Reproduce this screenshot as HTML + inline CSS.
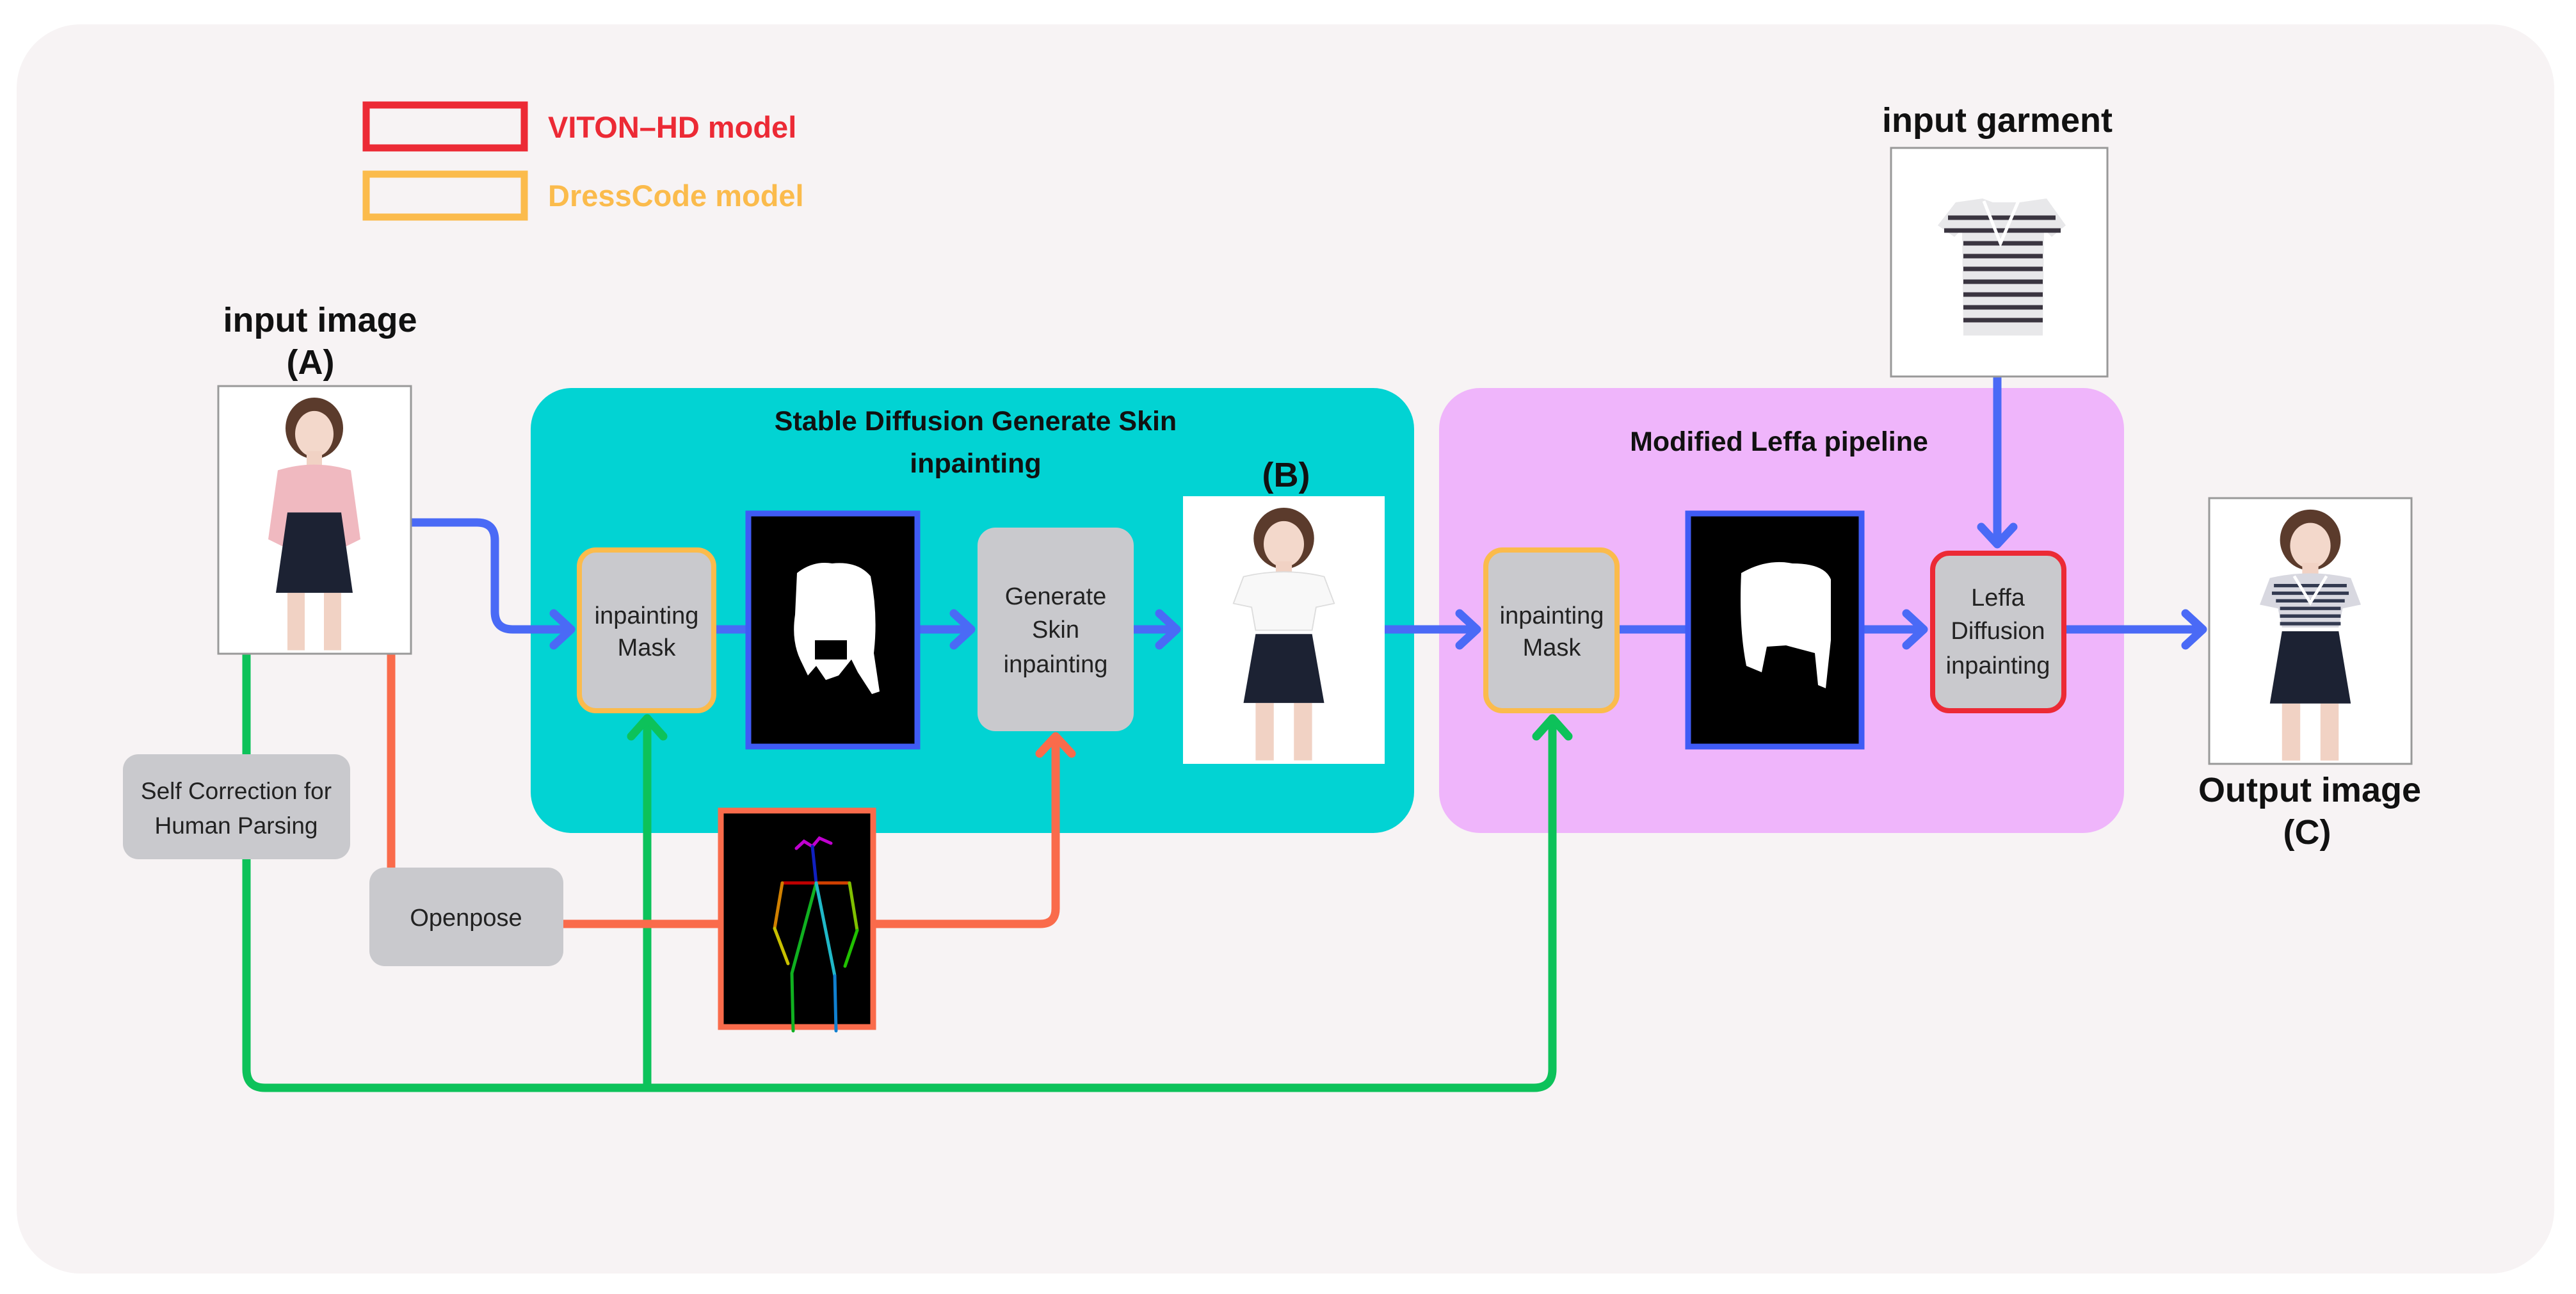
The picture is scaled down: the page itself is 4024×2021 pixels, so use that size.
<!DOCTYPE html>
<html><head><meta charset="utf-8"><style>
html,body{margin:0;padding:0;background:#fff}
svg{display:block}
text{font-family:"Liberation Sans","DejaVu Sans",sans-serif}
</style></head><body>
<svg width="4024" height="2021" viewBox="0 0 4024 2021" xmlns="http://www.w3.org/2000/svg">
<defs>
<g id="person">
  <rect x="36" y="108" width="9" height="30" fill="#f1d2c4"/>
  <rect x="55" y="108" width="9" height="30" fill="#f1d2c4"/>
  <ellipse cx="50" cy="22" rx="15" ry="16" fill="#5b3b2c"/>
  <ellipse cx="50" cy="25" rx="10" ry="12" fill="#f3d8cb"/>
  <rect x="46" y="34" width="8" height="8" fill="#f1d2c4"/>
</g>
</defs>
<rect width="4024" height="2021" fill="#fff"/>
<rect x="26" y="38" width="3964" height="1951" rx="100" fill="#f7f3f4"/>

<!-- legend -->
<rect x="572" y="164" width="247" height="67" fill="none" stroke="#ec2a35" stroke-width="11"/>
<text x="856" y="215" font-size="47" font-weight="bold" fill="#ec2a35">VITON–HD model</text>
<rect x="572" y="272" width="247" height="67" fill="none" stroke="#fbbb4c" stroke-width="11"/>
<text x="856" y="322" font-size="47" font-weight="bold" fill="#fbbb4c">DressCode model</text>

<!-- panels -->
<rect x="829" y="606" width="1380" height="695" rx="64" fill="#02d3d3"/>
<rect x="2248" y="606" width="1070" height="695" rx="64" fill="#efb5fb"/>
<text x="1524" y="672" font-size="43" font-weight="bold" text-anchor="middle" fill="#111">Stable Diffusion Generate Skin</text>
<text x="1524" y="738" font-size="43" font-weight="bold" text-anchor="middle" fill="#111">inpainting</text>
<text x="2779" y="704" font-size="43" font-weight="bold" text-anchor="middle" fill="#111">Modified Leffa pipeline</text>

<!-- labels -->
<text x="500" y="518" font-size="54" font-weight="bold" text-anchor="middle" fill="#111">input image</text>
<text x="485" y="584" font-size="54" font-weight="bold" text-anchor="middle" fill="#111">(A)</text>
<text x="2009" y="760" font-size="54" font-weight="bold" text-anchor="middle" fill="#111">(B)</text>
<text x="3120" y="206" font-size="54" font-weight="bold" text-anchor="middle" fill="#111">input garment</text>
<text x="3608" y="1252" font-size="54" font-weight="bold" text-anchor="middle" fill="#111">Output image</text>
<text x="3604" y="1318" font-size="54" font-weight="bold" text-anchor="middle" fill="#111">(C)</text>

<!-- connectors -->
<g fill="none" stroke-linecap="round" stroke-linejoin="round" stroke-width="13">
 <!-- green -->
 <path d="M385 1021 V1670 Q385 1699 414 1699 H2396 Q2425 1699 2425 1670 V1125" stroke="#0dc25a"/>
 <path d="M1011 1699 V1125" stroke="#0dc25a"/>
 <path d="M986 1150 L1011 1122 L1036 1150" stroke="#0dc25a"/>
 <path d="M2400 1150 L2425 1122 L2450 1150" stroke="#0dc25a"/>
 <!-- orange -->
 <path d="M611 1021 V1355" stroke="#fa6b4b"/>
 <path d="M880 1443 H1124" stroke="#fa6b4b"/>
 <path d="M1365 1443 H1625 Q1649 1443 1649 1419 V1152" stroke="#fa6b4b"/>
 <path d="M1624 1177 L1649 1150 L1674 1177" stroke="#fa6b4b"/>
 <!-- blue -->
 <path d="M642 816 H745 Q773 816 773 844 V955 Q773 983 801 983 H890" stroke="#4a6af6"/>
 <path d="M865 958 L892 983 L865 1008" stroke="#4a6af6"/>
 <path d="M1119 983 H1165" stroke="#4a6af6"/>
 <path d="M1437 983 H1515" stroke="#4a6af6"/>
 <path d="M1490 958 L1517 983 L1490 1008" stroke="#4a6af6"/>
 <path d="M1771 983 H1836" stroke="#4a6af6"/>
 <path d="M1811 958 L1838 983 L1811 1008" stroke="#4a6af6"/>
 <path d="M2163 983 H2305" stroke="#4a6af6"/>
 <path d="M2280 958 L2307 983 L2280 1008" stroke="#4a6af6"/>
 <path d="M2530 983 H2633" stroke="#4a6af6"/>
 <path d="M2912 983 H3003" stroke="#4a6af6"/>
 <path d="M2978 958 L3005 983 L2978 1008" stroke="#4a6af6"/>
 <path d="M3228 983 H3439" stroke="#4a6af6"/>
 <path d="M3414 958 L3441 983 L3414 1008" stroke="#4a6af6"/>
 <path d="M3120 588 V848" stroke="#4a6af6"/>
 <path d="M3095 823 L3120 850 L3145 823" stroke="#4a6af6"/>
</g>

<!-- image A -->
<rect x="341" y="603" width="301" height="418" fill="#fff" stroke="#999" stroke-width="3"/>
<g transform="translate(341,603) scale(3,2.99)">
 <use href="#person"/>
 <path d="M31 44 Q50 38 69 44 L74 80 L66 84 L64 66 L36 66 L34 84 L26 80 Z" fill="#f0b9c0"/>
 <path d="M36 66 H64 L70 108 H30 Z" fill="#1c2233"/>
</g>
<!-- image B -->
<rect x="1848" y="775" width="315" height="418" fill="#fff"/>
<g transform="translate(1848,775) scale(3.15,2.99)">
 <use href="#person"/>
 <path d="M30 42 Q50 37 70 42 L75 56 L66 58 L64 70 L36 70 L34 58 L25 56 Z" fill="#f8f8f8" stroke="#ddd" stroke-width="0.6"/>
 <path d="M36 72 H64 L70 108 H30 Z" fill="#1c2233"/>
</g>
<!-- output C -->
<rect x="3451" y="778" width="316" height="415" fill="#fff" stroke="#999" stroke-width="3"/>
<g transform="translate(3451,778) scale(3.16,2.97)">
 <use href="#person"/>
 <path d="M30 42 Q50 37 70 42 L75 56 L66 58 L64 68 L36 68 L34 58 L25 56 Z" fill="#d8d8e0"/>
 <g stroke="#333a50" stroke-width="1.8"><path d="M32 46 H68 M31 50 H69 M33 54 H67 M35 58 H65 M35 62 H65 M35 66 H65"/></g>
 <path d="M42 41 L50 55 L58 41" fill="none" stroke="#fff" stroke-width="1.5"/>
 <path d="M36 70 H64 L70 108 H30 Z" fill="#1c2233"/>
</g>
<!-- garment -->
<rect x="2954" y="231" width="338" height="357" fill="#fff" stroke="#999" stroke-width="3"/>
<g transform="translate(3015,310)">
 <path d="M40 6 L82 0 L98 6 L140 6 L182 0 L212 42 L190 60 L178 48 L176 214 L52 214 L50 48 L38 60 L12 42 Z" fill="#e8e8ea"/>
 <g stroke="#3a3540" stroke-width="7">
  <path d="M28 30 H196 M22 50 H204 M52 70 H176 M52 90 H176 M52 110 H176 M52 130 H176 M52 150 H176 M52 170 H176 M52 190 H176"/>
 </g>
 <path d="M84 4 L110 70 L138 4" fill="none" stroke="#fff" stroke-width="5"/>
</g>

<!-- mask images -->
<rect x="1169" y="802" width="264" height="364" fill="#000" stroke="#3f5bf5" stroke-width="9"/>
<path d="M1245 895 Q1270 875 1300 880 Q1340 876 1360 900 Q1372 960 1365 1020 L1374 1080 L1362 1084 L1340 1050 L1330 1030 L1310 1055 L1290 1062 L1275 1040 L1262 1055 L1250 1030 Q1236 1000 1242 960 Z" fill="#fff"/>
<rect x="1273" y="1000" width="50" height="30" fill="#000"/>
<rect x="2637" y="802" width="271" height="364" fill="#000" stroke="#3f5bf5" stroke-width="9"/>
<path d="M2720 895 Q2760 872 2800 880 Q2850 880 2860 905 L2860 1000 L2852 1075 L2840 1070 L2835 1020 L2790 1008 L2760 1010 L2752 1050 L2728 1040 Q2716 980 2720 895 Z" fill="#fff"/>

<!-- pose -->
<rect x="1126" y="1266" width="238" height="338" fill="#000" stroke="#fa6b4b" stroke-width="9"/>
<g transform="translate(1122,1262)" stroke-width="5" stroke-linecap="round" fill="none">
 <path d="M122 63 L134 52 L147 60 L158 47 L176 55" stroke="#c000d0"/>
 <path d="M147 60 L153 117" stroke="#1020c0"/>
 <path d="M100 117 H153" stroke="#c00000"/>
 <path d="M153 117 H205" stroke="#d04000"/>
 <path d="M100 117 L88 188" stroke="#d08000"/>
 <path d="M88 188 L109 243" stroke="#c8c000"/>
 <path d="M205 117 L217 191" stroke="#80c000"/>
 <path d="M217 191 L198 247" stroke="#20c000"/>
 <path d="M153 117 L115 258 L117 348" stroke="#10b020"/>
 <path d="M153 117 L182 262" stroke="#20b8c8"/>
 <path d="M182 262 L184 348" stroke="#1080d0"/>
</g>

<!-- gray boxes -->
<g font-size="38" text-anchor="middle" fill="#222">
 <rect x="905" y="859" width="210" height="251" rx="26" fill="#c9c9cd" stroke="#fbbb4c" stroke-width="8"/>
 <text x="1010" y="974">inpainting</text><text x="1010" y="1024">Mask</text>
 <rect x="1527" y="824" width="244" height="318" rx="28" fill="#c9c9cd"/>
 <text x="1649" y="944">Generate</text><text x="1649" y="996">Skin</text><text x="1649" y="1050">inpainting</text>
 <rect x="2321" y="859" width="205" height="251" rx="26" fill="#c9c9cd" stroke="#fbbb4c" stroke-width="8"/>
 <text x="2424" y="974">inpainting</text><text x="2424" y="1024">Mask</text>
 <rect x="3019" y="864" width="205" height="246" rx="26" fill="#c9c9cd" stroke="#ec2a35" stroke-width="8"/>
 <text x="3121" y="946">Leffa</text><text x="3121" y="998">Diffusion</text><text x="3121" y="1052">inpainting</text>
 <rect x="192" y="1178" width="355" height="164" rx="24" fill="#c9c9cd"/>
 <text x="369" y="1248" font-size="37">Self Correction for</text><text x="369" y="1302" font-size="37">Human Parsing</text>
 <rect x="577" y="1355" width="303" height="154" rx="24" fill="#c9c9cd"/>
 <text x="728" y="1446" font-size="38">Openpose</text>
</g>
</svg>
</body></html>
